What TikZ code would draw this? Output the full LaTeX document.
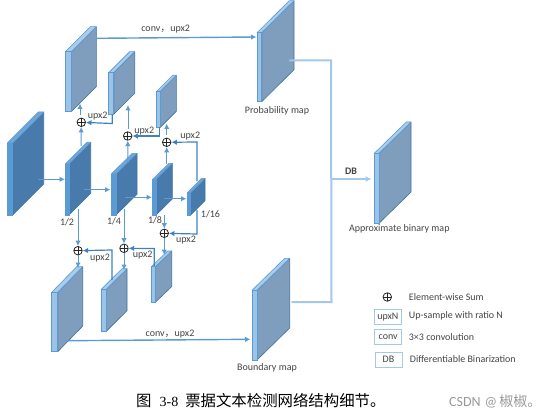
\documentclass[tikz,border=0pt]{standalone}
\usepackage{fontspec}
\setmainfont{Carlito}
\newfontfamily\cjk{Noto Sans CJK SC}
\newfontfamily\capserif{Liberation Serif}
\definecolor{lightfront}{HTML}{9DC3E6}
\definecolor{lighttop}{HTML}{A9CCEB}
\definecolor{greyside}{HTML}{7F9DBC}
\definecolor{blueedge}{HTML}{41719C}
\definecolor{darkfront}{HTML}{5B9BD5}
\definecolor{darktop}{HTML}{6FA6DA}
\definecolor{darkside}{HTML}{487BAC}
\definecolor{arrowblue}{HTML}{5B9BD5}
\definecolor{deepblue}{HTML}{3C82C4}
\definecolor{lineLight}{HTML}{A3C8E9}
\definecolor{labelgrey}{HTML}{444444}
\usetikzlibrary{arrows.meta}
\tikzset{
  x=1pt,y=-1pt,
  lbl/.style={inner sep=0pt,font=\fontsize{10}{12}\selectfont,text=labelgrey},
  legendbox/.style={draw=lineLight,line width=1pt,fill=white,minimum width=27pt,minimum height=15pt,inner sep=0pt,font=\fontsize{10}{12}\selectfont,text=labelgrey},
  flow/.style={draw=arrowblue,line width=1pt,-{Latex[length=5.5pt,width=5.5pt]}},
  upflow/.style={draw=deepblue,line width=1.2pt,-{Latex[length=5.5pt,width=5.5pt]}},
  sumnode/.style={circle,draw=black!85,line width=.8pt,minimum size=8.5pt,inner sep=0pt,path picture={
    \draw[black!85,line width=.8pt] (path picture bounding box.north)--(path picture bounding box.south)
      (path picture bounding box.west)--(path picture bounding box.east);}},
  plainlink/.style={draw=lineLight,line width=2pt},
}
% name, front x1, front x2, top y1, bottom y2, back x, back top y
\newcommand{\lightblk}[7]{%
  \path[fill=greyside,draw=blueedge,line width=.6pt,line join=round] (#3,#4)--(#6,#7)--(#6,{#7+(#5-#4)})--(#3,#5)--cycle;
  \path[fill=lighttop,draw=arrowblue,line width=.6pt,line join=round] (#2,#4)--({#2+(#6-#3)},#7)--(#6,#7)--(#3,#4)--cycle;
  \node[fill=lightfront,draw=arrowblue,line width=.6pt,inner sep=0pt,minimum width={(#3-#2)*1pt},minimum height={(#5-#4)*1pt}] (#1) at ({(#2+#3)/2},{(#4+#5)/2}) {};}
\newcommand{\darkblk}[7]{%
  \path[fill=darkside,draw=blueedge,line width=.6pt,line join=round] (#3,#4)--(#6,#7)--(#6,{#7+(#5-#4)})--(#3,#5)--cycle;
  \path[fill=darktop,draw=arrowblue,line width=.6pt,line join=round] (#2,#4)--({#2+(#6-#3)},#7)--(#6,#7)--(#3,#4)--cycle;
  \node[fill=darkfront,draw=arrowblue,line width=.6pt,inner sep=0pt,minimum width={(#3-#2)*1pt},minimum height={(#5-#4)*1pt}] (#1) at ({(#2+#3)/2},{(#4+#5)/2}) {};}
\begin{document}
\begin{tikzpicture}
\useasboundingbox (0,0) rectangle (554,417);
\coordinate (pa) at (289.3,60.3);
\coordinate (pb) at (331,60.3);
\coordinate (ba) at (291.7,302);
\coordinate (bb) at (331.5,302);
\coordinate (dbs) at (331,179);
\coordinate (dbe) at (371.5,179);
% blocks
\darkblk{input}{7.3}{12.7}{143}{215}{43.7}{112}
\darkblk{dtwo}{65.3}{69}{164}{215}{90.7}{142.3}
\darkblk{dfour}{111.3}{116}{174}{215}{137}{153.3}
\darkblk{deight}{152.7}{156}{179.3}{215}{172.3}{163.3}
\darkblk{dsixteen}{187.3}{190.7}{192.7}{215}{205}{178.3}
\lightblk{upone}{65.3}{71.3}{51.7}{111.7}{96.3}{26.7}
\lightblk{uptwo}{108.7}{113.7}{72.7}{114.3}{134.7}{51.7}
\lightblk{upthree}{156.7}{160.3}{91.3}{127.3}{176.3}{75.3}
\lightblk{bone}{51.7}{57.7}{292.3}{351.7}{82.7}{266.7}
\lightblk{btwo}{101.3}{106.3}{289.3}{331.3}{127}{268.7}
\lightblk{bthree}{151.3}{155.3}{266.7}{302.3}{171.7}{251}
\lightblk{prob}{257}{261.7}{32.7}{101.7}{294}{0.7}
\lightblk{bound}{252}{257}{290.3}{360}{289.7}{258.3}
\lightblk{approx}{374.3}{379}{153.3}{223.3}{411}{122}
% sums
\node[sumnode] (s1) at (81.3,122.3) {};
\node[sumnode] (s2) at (127.7,136) {};
\node[sumnode] (s3) at (166.7,142.3) {};
\node[sumnode] (s4) at (78,250.7) {};
\node[sumnode] (s5) at (124,248.3) {};
\node[sumnode] (s6) at (164.3,233.3) {};
% free ends
\foreach \n/\x/\y in {a1/38/179.3,a2/65/179.3,b1/84/189.7,b2/110.5/189.7,c1/125/197.3,c2/152/197.3,d1/164/198.7,d2/186.5/198.7,
  ct1/96.3/38.3,ct2/256.5/37,cb1/68.3/340.7,cb2/250.5/339.3,
  u1/81/146,u3/80/115.5,u4/80/103.5,u5/128/163,u7/128/129,u8/128/105,u9/166.7/164,u11/166.7/135.5,u12/166.7/123.5,
  h1/112.3/114.5,h2/112.3/123.5,h3/159.3/127.5,h4/159.3/136,h5/197/181,h6/197/142,
  v1/78/209,v4/78/268,v5/124/209,v8/124/270,v9/164.3/215,v12/164.3/255,
  g1/197/210,g2/197/234,k1/112/280,k2/112/250,k3/154.3/266,k4/154.3/248.5}{\coordinate (\n) at (\x,\y);}
% flows
\draw[flow] (a1)--(a2);
\draw[flow] (b1)--(b2);
\draw[flow] (c1)--(c2);
\draw[flow] (d1)--(d2);
\draw[flow,line width=1.4pt] (ct1)--(ct2);
\draw[flow,line width=1.4pt] (cb1)--(cb2);
\draw[flow] (u1)--(s1);
\draw[flow] (u3)--(u4);
\draw[flow] (u5)--(s2);
\draw[flow] (u7)--(u8);
\draw[flow] (u9)--(s3);
\draw[flow] (u11)--(u12);
\draw[flow] (v1)--(s4);
\draw[flow] (s4)--(v4);
\draw[flow] (v5)--(s5);
\draw[flow] (s5)--(v8);
\draw[flow] (v9)--(s6);
\draw[flow] (s6)--(v12);
\draw[upflow] (h1)--(h2)--(s1);
\draw[upflow] (h3)--(h4)--(s2);
\draw[upflow] (h5)--(h6)--(s3);
\draw[upflow] (g1)--(g2)--(s6);
\draw[upflow] (k1)--(k2)--(s4);
\draw[upflow] (k3)--(k4)--(s5);
% DB connector
\draw[plainlink] (pa)--(pb)--(bb)--(ba);
\draw[draw=lineLight,line width=1.4pt,-{Latex[length=6pt,width=6pt]}] (dbs)--(dbe);
% labels
\node[lbl] (l1) at (165.7,28.7) {conv{\cjk ，}upx2};
\node[lbl] (l2) at (170,334) {conv{\cjk ，}upx2};
\node[lbl] (l3) at (277,110.7) {Probability map};
\node[lbl] (l4) at (399.3,229) {Approximate binary map};
\node[lbl] (l5) at (267,367.7) {Boundary map};
\node[lbl,font=\fontsize{10}{12}\selectfont\bfseries] (l6) at (351,171) {DB};
\node[lbl] (u21) at (97.7,115.7) {upx2};
\node[lbl] (u22) at (144.3,130.7) {upx2};
\node[lbl] (u23) at (190.3,135.7) {upx2};
\node[lbl] (u24) at (186,240) {upx2};
\node[lbl] (u25) at (100,258.3) {upx2};
\node[lbl] (u26) at (142.7,255) {upx2};
\node[lbl] (r2) at (67,222) {1/2};
\node[lbl] (r4) at (114,221.3) {1/4};
\node[lbl] (r8) at (155,220) {1/8};
\node[lbl] (r16) at (210.5,214.5) {1/16};
% legend
\node[sumnode] (ls) at (387.3,297) {};
\node[legendbox] (lb1) at (387.8,316.6) {upxN};
\node[legendbox] (lb2) at (388.2,337.3) {conv};
\node[legendbox] (lb3) at (388.5,359.5) {DB};
\node[lbl,anchor=west] (lt0) at (408.7,296.7) {Element-wise Sum};
\node[lbl,anchor=west] (lt1) at (408.7,316) {Up-sample with ratio N};
\node[lbl,anchor=west] (lt2) at (408.7,337) {3×3 convolution};
\node[lbl,anchor=west] (lt3) at (409.7,359) {Differentiable Binarization};
% caption
\node[inner sep=0pt,font=\fontsize{15.4}{17}\selectfont\cjk,anchor=west] (cap) at (136,401) {图\hspace{8pt}{\capserif\fontsize{14}{16}\selectfont 3-8}\hspace{7pt}票据文本检测网络结构细节。};
\node[inner sep=0pt,font=\fontsize{14}{16}\selectfont,text=black!40,anchor=west] (wm) at (449,401) {CSDN\hspace{4pt}@\hspace{2pt}{\cjk 椒椒。}};
\end{tikzpicture}
\end{document}
